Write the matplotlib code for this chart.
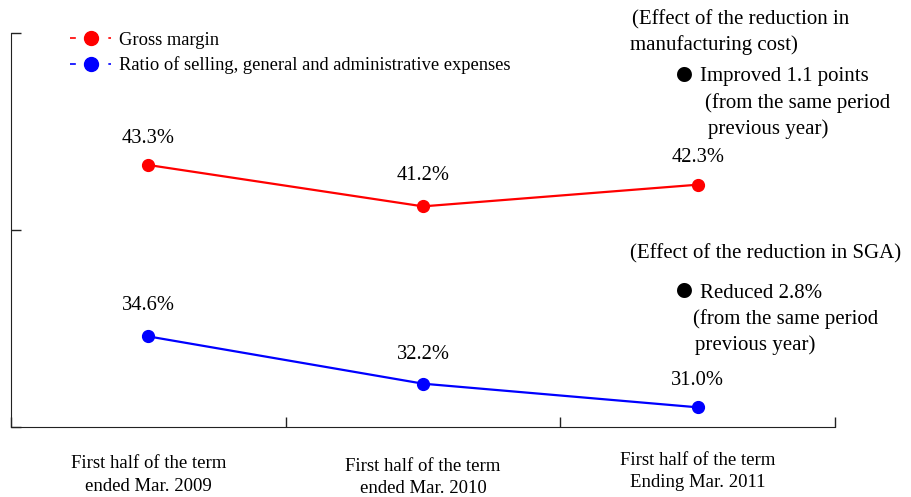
import matplotlib.pyplot as plt
from matplotlib.lines import Line2D

plt.rcParams["font.family"] = ["Liberation Serif", "DejaVu Serif"]

# data
periods = [
    "First half of the term\nended Mar. 2009",
    "First half of the term\nended Mar. 2010",
    "First half of the term\nEnding Mar. 2011",
]
gross_margin = [43.3, 41.2, 42.3]
sga_ratio = [34.6, 32.2, 31.0]
series_names = ["Gross margin", "Ratio of selling, general and administrative expenses"]

x_pos = [0.5, 1.5, 2.5]
# vertical offset of value labels above points (points)
label_off = [(19, 22, 19.5), (22, 21, 19)]
period_label_y = [-0.072, -0.079, -0.064]

fig = plt.figure(figsize=(9.11, 4.97), dpi=100)
ax = fig.add_axes((11 / 911, 0.1408, 824 / 911, 0.7928))

ax.plot(x_pos, gross_margin, color="#ff0000", lw=1.6, marker="o", ms=8.5)
ax.plot(x_pos, sga_ratio, color="#0000ff", lw=1.6, marker="o", ms=8.5)

for vals, offs in zip([gross_margin, sga_ratio], label_off):
    for xp, v, off in zip(x_pos, vals, offs):
        ax.annotate(f"{v:.1f}%", (xp, v), xytext=(0, off), textcoords="offset points",
                    ha="center", va="center", fontsize=14.8)

ax.set_xlim(0, 3)
ax.set_ylim(30, 50)
ax.set_xticks([0, 1, 2, 3])
ax.set_yticks([30, 40, 50])
ax.set_xticklabels([])
ax.set_yticklabels([])
ax.tick_params(direction="in", length=7, width=1, color="#222222")
for side in ["top", "right"]:
    ax.spines[side].set_visible(False)
for side in ["left", "bottom"]:
    ax.spines[side].set_color("#222222")

for xp, lab, ly in zip(x_pos, periods, period_label_y):
    ax.text(xp, ly, lab, transform=ax.get_xaxis_transform(), ha="center", va="top",
            fontsize=13.5, linespacing=1.4)

handles = [
    Line2D([], [], color="#ff0000", ls=(0, (3.5, 8)), lw=1.2, marker="o", ms=10),
    Line2D([], [], color="#0000ff", ls=(0, (3.5, 8)), lw=1.2, marker="o", ms=10),
]
fig.legend(handles, series_names, loc="upper left", bbox_to_anchor=(0.059, 0.970),
           frameon=False, fontsize=13.3, handlelength=2.2, labelspacing=0.42,
           handletextpad=0.45)

# side notes
fs = 15
fig.text(632 / 911, 1 - 20 / 497, "(Effect of the reduction in", fontsize=fs, va="center")
fig.text(630 / 911, 1 - 45 / 497, "manufacturing cost)", fontsize=fs, va="center")
fig.text(674 / 911, 1 - 76 / 497, "\u25cf", fontsize=25, va="center")
fig.text(700 / 911, 1 - 77 / 497, "Improved 1.1 points", fontsize=fs, va="center")
fig.text(705 / 911, 1 - 103 / 497, "(from the same period", fontsize=fs, va="center")
fig.text(708 / 911, 1 - 129 / 497, "previous year)", fontsize=fs, va="center")

fig.text(630 / 911, 1 - 254 / 497, "(Effect of the reduction in SGA)", fontsize=fs, va="center")
fig.text(674 / 911, 1 - 292 / 497, "\u25cf", fontsize=25, va="center")
fig.text(700 / 911, 1 - 293 / 497, "Reduced 2.8%", fontsize=fs, va="center")
fig.text(693 / 911, 1 - 319 / 497, "(from the same period", fontsize=fs, va="center")
fig.text(695 / 911, 1 - 345 / 497, "previous year)", fontsize=fs, va="center")

fig.savefig("out.png", dpi=100)
